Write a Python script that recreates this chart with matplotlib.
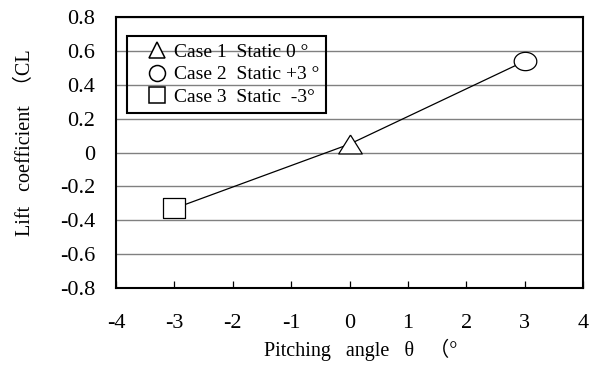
import numpy as np
import matplotlib
matplotlib.use("Agg")
import matplotlib.pyplot as plt
from matplotlib.lines import Line2D

plt.rcParams['font.family'] = ['Liberation Serif', 'Noto Sans CJK JP', 'DejaVu Sans']

# data
case_labels = ["Case 1  Static 0 \u00b0", "Case 2  Static +3 \u00b0", "Case 3  Static  -3\u00b0"]
pitch_angle = [0, 3, -3]
lift_coef = [0.05, 0.54, -0.33]
legend_markers = ["^", "o", "s"]
x_ticks = [-4, -3, -2, -1, 0, 1, 2, 3, 4]
y_ticks = [-0.8, -0.6, -0.4, -0.2, 0, 0.2, 0.4, 0.6, 0.8]


def fmt(v):
    return "0" if abs(v) < 1e-9 else f"{v:g}"


# flattened marker shapes, as in the original (slightly wider than tall)
t = np.linspace(0, 2 * np.pi, 60)
ellipse = list(zip(np.cos(t), 0.81 * np.sin(t)))
tri = [(0, 0.8), (-1, -0.8), (1, -0.8), (0, 0.8)]
rect = [(-1, -0.84), (1, -0.84), (1, 0.84), (-1, 0.84), (-1, -0.84)]
shapes = [tri, ellipse, rect]
sizes = [17, 16.3, 16.5]

fig = plt.figure(figsize=(5.92, 3.65), dpi=100)
ax = fig.add_axes([0.196, 0.211, 0.789, 0.742])

order = np.argsort(pitch_angle)
ax.plot(np.array(pitch_angle)[order], np.array(lift_coef)[order], color="black",
        lw=0.9, zorder=3)
for xv, yv, mk, ms in zip(pitch_angle, lift_coef, shapes, sizes):
    ax.plot([xv], [yv], marker=mk, ms=ms, mfc="white", mec="black", mew=0.9,
            ls="none", zorder=4)

ax.set_xlim(-4, 4)
ax.set_ylim(-0.8, 0.8)
ax.set_xticks(x_ticks)
ax.set_yticks(y_ticks)
ax.set_xticklabels([fmt(v) for v in x_ticks])
ax.set_yticklabels([fmt(v) for v in y_ticks])
ax.tick_params(axis="x", direction="in", length=5, width=0.9, pad=19, labelsize=16)
ax.tick_params(axis="y", length=0, pad=15, labelsize=16)
ax.yaxis.grid(True, color="#808080", lw=1.0)
ax.set_axisbelow(True)
for s in ax.spines.values():
    s.set_linewidth(1.5)

# legend box is see-through in the original: grid lines run across it
handles = [Line2D([], [], marker=m, ms=11.5, mfc="white", mec="black", mew=1.1,
                  ls="none") for m in legend_markers]
leg = ax.legend(handles, case_labels, loc="upper left",
                bbox_to_anchor=(0.0236, 0.93), borderaxespad=0, fontsize=14,
                frameon=True, fancybox=False, facecolor="none", framealpha=1,
                edgecolor="black", handlelength=2.37, handletextpad=-0.31,
                labelspacing=0.26, borderpad=0.36)
leg.get_frame().set_linewidth(1.5)

fig.text(25 / 592, 1 - 143 / 365, "Lift   coefficient  \uff08CL", rotation=90,
         ha="center", va="center", fontsize=14.5)
fig.text(361 / 592, 1 - 350 / 365, "Pitching   angle   \u03b8   \uff08\u00b0",
         ha="center", va="center", fontsize=14.5)

fig.savefig("out.png", dpi=100)
